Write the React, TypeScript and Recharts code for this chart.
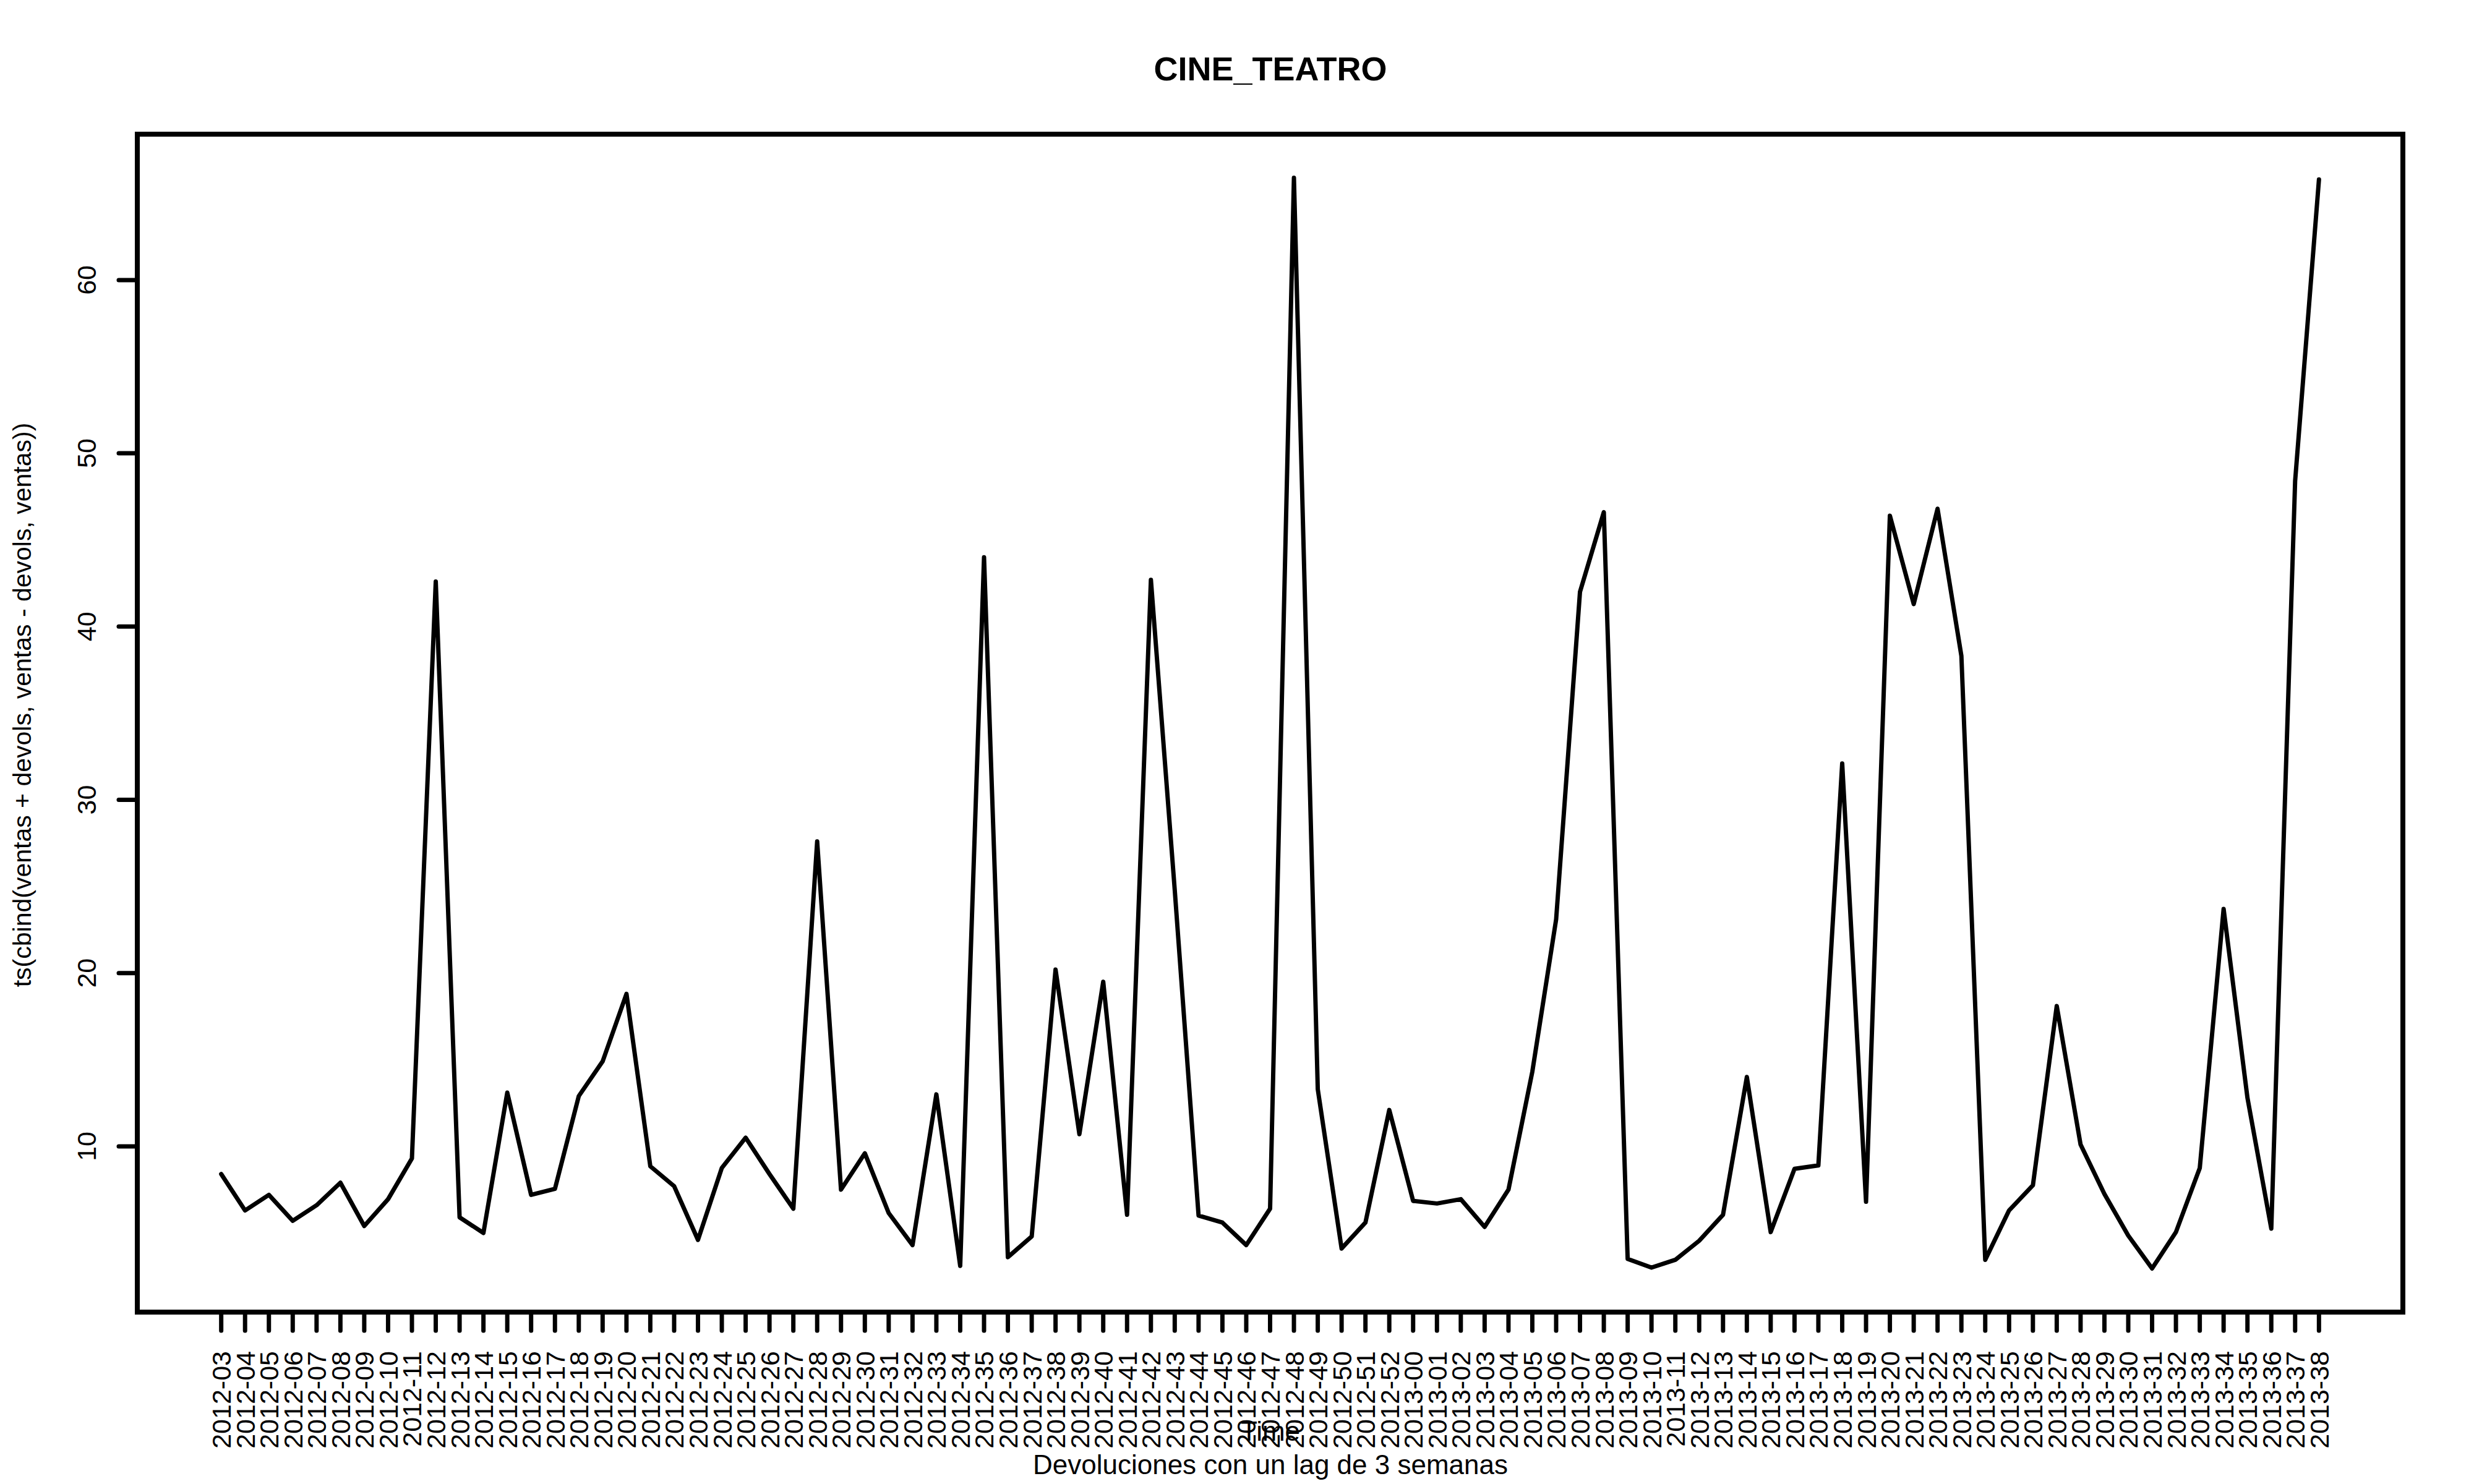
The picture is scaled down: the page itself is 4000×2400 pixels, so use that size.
import React from 'react';
import {
  LineChart,
  Line,
  XAxis,
  YAxis,
  ReferenceArea,
} from 'recharts';

// weekly points, 2012-03 .. 2013-38
const weekLabels = [
  '2012-03', '2012-04', '2012-05', '2012-06', '2012-07', '2012-08', '2012-09', '2012-10',
  '2012-11', '2012-12', '2012-13', '2012-14', '2012-15', '2012-16', '2012-17', '2012-18',
  '2012-19', '2012-20', '2012-21', '2012-22', '2012-23', '2012-24', '2012-25', '2012-26',
  '2012-27', '2012-28', '2012-29', '2012-30', '2012-31', '2012-32', '2012-33', '2012-34',
  '2012-35', '2012-36', '2012-37', '2012-38', '2012-39', '2012-40', '2012-41', '2012-42',
  '2012-43', '2012-44', '2012-45', '2012-46', '2012-47', '2012-48', '2012-49', '2012-50',
  '2012-51', '2012-52', '2013-00', '2013-01', '2013-02', '2013-03', '2013-04', '2013-05',
  '2013-06', '2013-07', '2013-08', '2013-09', '2013-10', '2013-11', '2013-12', '2013-13',
  '2013-14', '2013-15', '2013-16', '2013-17', '2013-18', '2013-19', '2013-20', '2013-21',
  '2013-22', '2013-23', '2013-24', '2013-25', '2013-26', '2013-27', '2013-28', '2013-29',
  '2013-30', '2013-31', '2013-32', '2013-33', '2013-34', '2013-35', '2013-36', '2013-37',
  '2013-38',
];

const values = [
  8.4, 6.3, 7.2, 5.7, 6.6, 7.9, 5.4, 6.95,
  9.3, 42.6, 5.9, 5.0, 13.1, 7.2, 7.55, 12.9,
  14.9, 18.8, 8.85, 7.7, 4.6, 8.75, 10.5, 8.4,
  6.4, 27.6, 7.5, 9.6, 6.15, 4.3, 13.0, 3.1,
  44.0, 3.6, 4.8, 20.2, 10.7, 19.5, 6.05, 42.7,
  24.8, 6.0, 5.6, 4.3, 6.4, 65.9, 13.3, 4.1,
  5.6, 12.1, 6.85, 6.7, 6.95, 5.35, 7.5, 14.3,
  23.1, 42.0, 46.6, 3.5, 3.0, 3.45, 4.55, 6.05,
  14.0, 5.05, 8.7, 8.9, 32.1, 6.8, 46.4, 41.3,
  46.8, 38.3, 3.45, 6.3, 7.75, 18.1, 10.1, 7.25,
  4.85, 2.95, 5.05, 8.75, 23.7, 12.8, 5.25, 48.4,
  65.8,
];

const yTicks = [10, 20, 30, 40, 50, 60];

const data = values.map((v, i) => ({ idx: i, value: v }));
const xTicks = data.map((d) => d.idx);

// R-style 4% axis padding
const n = values.length - 1;
const xDomain = [-0.04 * n, n + 0.04 * n];
const yMin = Math.min(...values);
const yMax = Math.max(...values);
const yPad = (yMax - yMin) * 0.04;
const yDomain = [yMin - yPad, yMax + yPad];

const FONT = '"Liberation Sans", Arial, Helvetica, sans-serif';

function XTick({ x, y, payload }: any) {
  return (
    <text
      x={x}
      y={y}
      transform={`rotate(-90 ${x} ${y})`}
      textAnchor="end"
      dy="0.36em"
      fontSize={43}
      fontFamily={FONT}
      fill="#000"
    >
      {weekLabels[payload.value]}
    </text>
  );
}

function YTick({ x, y, payload }: any) {
  return (
    <text
      x={x}
      y={y}
      transform={`rotate(-90 ${x} ${y})`}
      textAnchor="middle"
      fontSize={43}
      fontFamily={FONT}
      fill="#000"
    >
      {payload.value}
    </text>
  );
}

export default function App() {
  return (
    <div
      style={{
        position: 'absolute',
        left: 0,
        top: 0,
        width: 4000,
        height: 2400,
        background: '#fff',
      }}
    >
      <LineChart
        width={4000}
        height={2400}
        data={data}
        margin={{ top: 217, right: 115, left: 0, bottom: 0 }}
      >
        <XAxis
          type="number"
          dataKey="idx"
          domain={xDomain}
          ticks={xTicks}
          interval={0}
          height={278}
          axisLine={false}
          tickLine={{ stroke: '#000', strokeWidth: 7, strokeLinecap: 'round' }}
          tickSize={30}
          tickMargin={33}
          tick={<XTick />}
        />
        <YAxis
          type="number"
          domain={yDomain}
          ticks={yTicks}
          width={222}
          axisLine={false}
          tickLine={{ stroke: '#000', strokeWidth: 7, strokeLinecap: 'round' }}
          tickSize={30}
          tickMargin={37}
          tick={<YTick />}
        />
        <Line
          type="linear"
          dataKey="value"
          stroke="#000"
          strokeWidth={7}
          strokeLinejoin="round"
          strokeLinecap="round"
          dot={false}
          isAnimationActive={false}
        />
        <ReferenceArea
          x1={xDomain[0]}
          x2={xDomain[1]}
          y1={yDomain[0]}
          y2={yDomain[1]}
          fill="none"
          fillOpacity={0}
          stroke="#000"
          strokeWidth={8}
          ifOverflow="visible"
        />
      </LineChart>
      <svg
        width={4000}
        height={2400}
        style={{ position: 'absolute', left: 0, top: 0, pointerEvents: 'none' }}
      >
        <text
          x={2054}
          y={130}
          textAnchor="middle"
          fontSize={54}
          fontWeight="bold"
          fontFamily={FONT}
          fill="#000"
        >
          CINE_TEATRO
        </text>
        <text
          x={2054}
          y={2330}
          textAnchor="middle"
          fontSize={44}
          fontFamily={FONT}
          fill="#000"
        >
          Time
        </text>
        <text
          x={2054}
          y={2384}
          textAnchor="middle"
          fontSize={44}
          fontFamily={FONT}
          fill="#000"
        >
          Devoluciones con un lag de 3 semanas
        </text>
        <text
          x={50}
          y={1140}
          transform="rotate(-90 50 1140)"
          textAnchor="middle"
          fontSize={41}
          fontFamily={FONT}
          fill="#000"
        >
          ts(cbind(ventas + devols, ventas - devols, ventas))
        </text>
      </svg>
    </div>
  );
}
